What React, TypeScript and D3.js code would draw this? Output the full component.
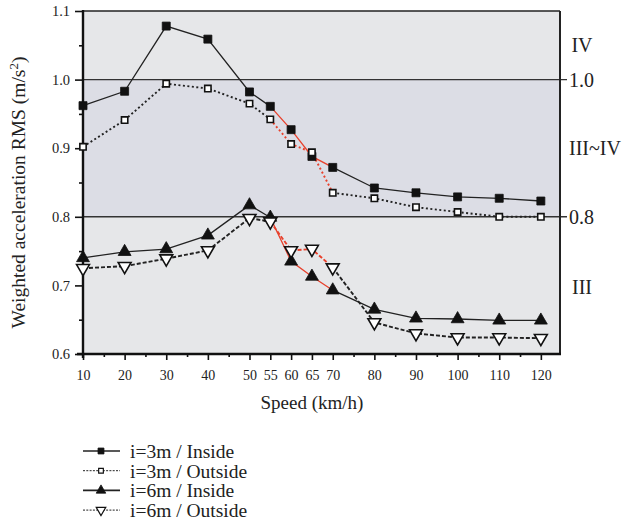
import React, {useEffect, useRef} from 'react'
import * as d3 from 'd3'

const speeds = [10, 20, 30, 40, 50, 55, 60, 65, 70, 80, 90, 100, 110, 120]
const inside3 = [0.962, 0.983, 1.078, 1.059, 0.982, 0.961, 0.927, 0.888, 0.872, 0.842, 0.835, 0.829, 0.827, 0.823]
const outside3 = [0.902, 0.941, 0.994, 0.987, 0.965, 0.942, 0.906, 0.894, 0.835, 0.827, 0.814, 0.807, 0.800, 0.800]
const inside6 = [0.740, 0.749, 0.753, 0.773, 0.817, 0.799, 0.735, 0.713, 0.693, 0.665, 0.652, 0.651, 0.649, 0.649]
const outside6 = [0.725, 0.728, 0.739, 0.751, 0.798, 0.793, 0.751, 0.753, 0.726, 0.646, 0.630, 0.624, 0.624, 0.623]
const seriesNames = ['i=3m / Inside', 'i=3m / Outside', 'i=6m / Inside', 'i=6m / Outside']
const yMajor = [0.6, 0.7, 0.8, 0.9, 1.0, 1.1]
const yMinor = [0.65, 0.75, 0.85, 0.95, 1.05]
const xMinor = [15, 25, 35, 45, 75, 85, 95, 105, 115]
const zones = [{label: 'IV', v: 1.05}, {label: 'III~IV', v: 0.9}, {label: 'III', v: 0.698}]
const limits = [0.8, 1.0]
// red part of every line: 55 -> 70 km/h
const redFrom = 5
const redTo = 8

const FONT = 'Liberation Serif, DejaVu Serif, serif'

const App = () => {
  const ref = useRef(null)

  useEffect(() => {
    const svg = d3.select(ref.current)
    svg.selectAll('*').remove()
    const margin = {top: 11, left: 83, right: 560, bottom: 354}

    const x = d3.scaleLinear().domain([10, 124.6]).range([margin.left, margin.right])
    const y = d3.scaleLinear().domain([0.6, 1.1]).range([margin.bottom, margin.top])

    // background bands
    const bands = [[0.6, 0.8, '#e6e7e9'], [0.8, 1.0, '#dcdde5'], [1.0, 1.1, '#e6e7e9']]
    svg.append('g').selectAll('rect').data(bands).join('rect')
      .attr('x', margin.left).attr('width', margin.right - margin.left)
      .attr('y', d => y(d[1])).attr('height', d => y(d[0]) - y(d[1]))
      .attr('fill', d => d[2])

    // limit lines
    svg.append('g').selectAll('line').data(limits).join('line')
      .attr('x1', margin.left).attr('x2', margin.right + 7)
      .attr('y1', d => y(d)).attr('y2', d => y(d))
      .attr('stroke', '#333').attr('stroke-width', 1.4)

    // frame
    svg.append('line').attr('x1', margin.left).attr('x2', margin.right)
      .attr('y1', margin.top).attr('y2', margin.top).attr('stroke', '#222').attr('stroke-width', 1.5)
    svg.append('line').attr('x1', margin.right).attr('x2', margin.right)
      .attr('y1', margin.top).attr('y2', margin.bottom).attr('stroke', '#222').attr('stroke-width', 2)

    // axes
    const yAxis = svg.append('g').attr('transform', `translate(${margin.left},0)`)
      .call(d3.axisLeft(y).tickValues(yMajor).tickSize(8).tickPadding(5).tickFormat(d3.format('.1f')))
    yAxis.select('.domain').remove()
    svg.append('g').attr('transform', `translate(${margin.left},0)`)
      .call(d3.axisLeft(y).tickValues(yMinor).tickSize(4).tickFormat(() => ''))
      .call(g => g.select('.domain').remove())

    const xAxis = svg.append('g').attr('transform', `translate(0,${margin.bottom})`)
      .call(d3.axisBottom(x).tickValues(speeds).tickSize(6).tickPadding(10).tickFormat(d3.format('d')))
    xAxis.select('.domain').remove()
    svg.append('g').attr('transform', `translate(0,${margin.bottom})`)
      .call(d3.axisBottom(x).tickValues(xMinor).tickSize(3).tickFormat(() => ''))
      .call(g => g.select('.domain').remove())

    svg.selectAll('g').attr('font-family', null).attr('font-size', null)
    svg.selectAll('.tick line').attr('stroke', '#111').attr('stroke-width', 1.6)
    svg.selectAll('.tick text').attr('fill', '#222')
    yAxis.selectAll('.tick text').attr('font-size', 14.5)
    xAxis.selectAll('.tick text').attr('font-size', 14)

    svg.append('line').attr('x1', margin.left).attr('x2', margin.left)
      .attr('y1', margin.top - 1).attr('y2', margin.bottom + 4).attr('stroke', '#111').attr('stroke-width', 2.4)
    svg.append('line').attr('x1', margin.left - 6).attr('x2', margin.right + 1)
      .attr('y1', margin.bottom).attr('y2', margin.bottom).attr('stroke', '#111').attr('stroke-width', 2.4)

    // right side labels
    svg.append('g').selectAll('text').data(limits).join('text')
      .attr('x', margin.right + 9).attr('y', d => y(d)).attr('dy', '0.35em')
      .attr('font-size', 20).attr('fill', '#222')
      .text(d => d.toFixed(1))
    svg.append('g').selectAll('text').data(zones).join('text')
      .attr('x', d => d.label.length > 3 ? margin.right + 35 : margin.right + 22)
      .attr('y', d => y(d.v)).attr('dy', '0.35em').attr('text-anchor', 'middle')
      .attr('font-size', 20).attr('fill', '#222')
      .text(d => d.label)

    // axis titles
    svg.append('text').attr('x', (x(10) + x(120)) / 2).attr('y', 409).attr('text-anchor', 'middle')
      .attr('font-size', 19).attr('fill', '#222').text('Speed (km/h)')
    const yt = svg.append('text')
      .attr('transform', `translate(25,${(margin.top + margin.bottom) / 2 + 10}) rotate(-90)`)
      .attr('text-anchor', 'middle').attr('font-size', 19.5).attr('fill', '#222')
    yt.append('tspan').text('Weighted acceleration RMS (m/s')
    yt.append('tspan').attr('dy', -7).attr('font-size', 13).text('2')
    yt.append('tspan').attr('dy', 7).text(')')

    // series
    const series = [
      {values: inside3, dash: null, marker: 'square', fill: '#111'},
      {values: outside3, dash: '2,2.5', marker: 'square', fill: '#fff'},
      {values: inside6, dash: null, marker: 'triangle', fill: '#111'},
      {values: outside6, dash: '4,2', marker: 'triangleDown', fill: '#fff'},
    ]
    const line = d3.line().x(d => x(d[0])).y(d => y(d[1]))
    const symbols = {square: d3.symbolSquare, triangle: d3.symbolTriangle, triangleDown: d3.symbolTriangle}

    const drawMarker = (g, s, cx, cy, k = 1) => {
      const rot = s.marker === 'triangleDown' ? 180 : 0
      const open = s.fill === '#fff'
      const size = s.marker === 'square' ? (open ? 40 : 64) : 72
      g.append('path')
        .attr('d', d3.symbol(symbols[s.marker], size * k)())
        .attr('transform', `translate(${cx},${cy}) rotate(${rot})`)
        .attr('fill', s.fill).attr('stroke', '#111').attr('stroke-width', open ? 1.6 * Math.sqrt(k) : 0.8)
    }

    series.forEach(s => {
      const pts = speeds.map((v, i) => [v, s.values[i]])
      const parts = [
        [pts.slice(0, redFrom + 1), '#222'],
        [pts.slice(redTo), '#222'],
        [pts.slice(redFrom, redTo + 1), '#e8412c'],
      ]
      parts.forEach(([p, c]) => {
        svg.append('path').attr('d', line(p)).attr('fill', 'none')
          .attr('stroke', c).attr('stroke-width', s.dash ? 1.9 : 1.3)
          .attr('stroke-dasharray', s.dash)
      })
    })
    series.forEach(s => {
      const g = svg.append('g')
      speeds.forEach((v, i) => drawMarker(g, s, x(v), y(s.values[i])))
    })

    // legend
    const legend = svg.append('g')
    series.forEach((s, i) => {
      const ly = 451 + i * 19.7
      legend.append('line').attr('x1', 83).attr('x2', 120).attr('y1', ly).attr('y2', ly)
        .attr('stroke', '#222').attr('stroke-width', s.dash ? 1 : 1.6)
        .attr('stroke-dasharray', s.dash ? '2,1.3' : null)
      drawMarker(legend, s, 101, ly, 0.55)
      legend.append('text').attr('x', 130).attr('y', ly).attr('dy', '0.35em')
        .attr('font-size', 19.5).attr('fill', '#222')
        .text(seriesNames[i])
    })
  }, [])

  return <svg ref={ref} width={623} height={523}
    fontFamily={FONT}
    style={{position: 'absolute', left: 0, top: 0, background: '#fff'}} />
}

export default App
